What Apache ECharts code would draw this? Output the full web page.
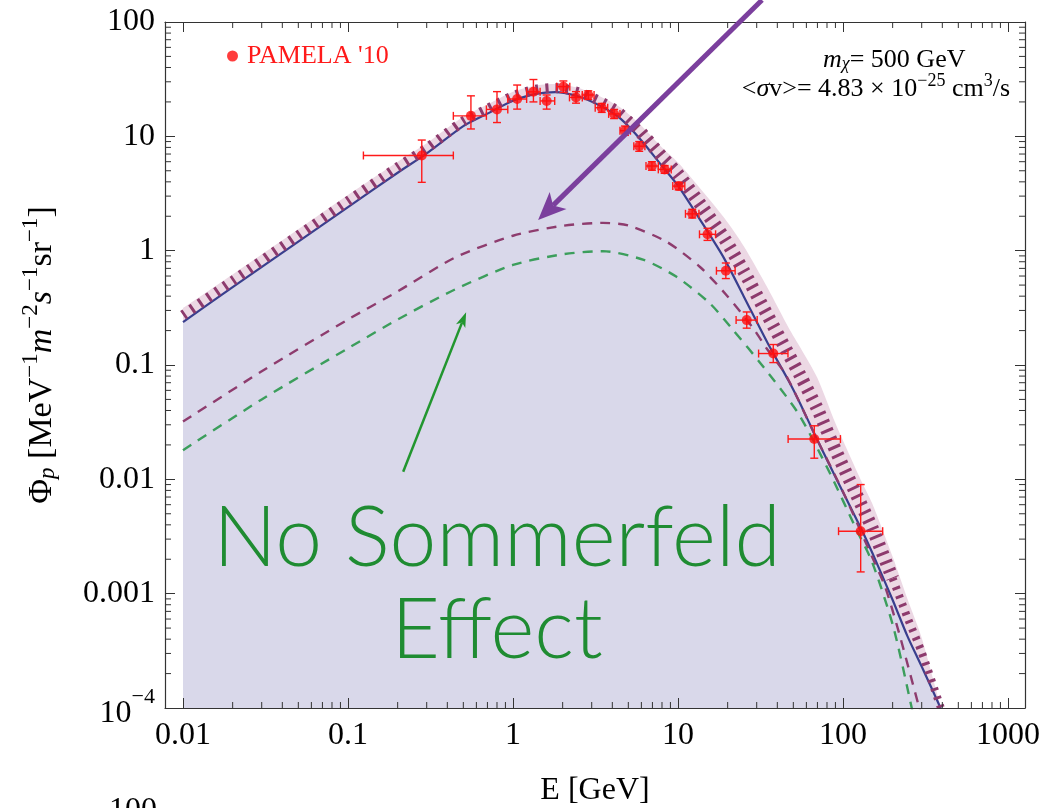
<!DOCTYPE html>
<html>
<head>
<meta charset="utf-8">
<script src="https://cdn.jsdelivr.net/npm/echarts@6/dist/echarts.min.js"></script>
<style>
html, body { margin: 0; padding: 0; background: #fff; }
#main { width: 1044px; height: 808px; }
</style>
</head>
<body>
<div id="main"></div>
<script>
const energy = [0.01, 0.02, 0.05, 0.1, 0.2, 0.3, 0.5, 0.7, 1, 1.4, 1.8, 2.5, 3.5, 4.5, 6, 8, 10, 14, 19, 25, 35, 47, 55, 70, 90, 130, 150, 200, 245, 300, 390, 430];
// total flux, solid blue curve (filled)
const fluxTotal = [0.237, 0.48, 1.2, 2.4, 4.8, 7.1, 12.3, 15.8, 20.5, 23.6, 24.4, 22.3, 18, 14.2, 9.2, 5.5, 3.7, 1.75, 0.86, 0.4, 0.155, 0.072, 0.046, 0.022, 0.0105, 0.0036, 0.0023, 0.00088, 0.00043, 0.00023, 0.0001, 0.00007];
// upper edge of the hatched band
const fluxUpper = [0.315, 0.62, 1.54, 3.07, 6.0, 8.7, 14.8, 19, 24.6, 28, 28.7, 26.5, 21.8, 17.8, 12.4, 8.0, 5.9, 3.35, 1.95, 1.1, 0.47, 0.21, 0.143, 0.077, 0.031, 0.0095, 0.0062, 0.0021, 0.00091, 0.00041, 0.000105, 0.00007];

// maroon dashed curve
const maroonE = [0.01, 0.03, 0.1, 0.2, 0.445, 1, 2, 3.5, 5, 8.5, 13.6, 19.7, 28.6, 34.4, 45, 70, 100, 150, 180, 219, 260, 290, 310];
const maroonF = [0.032, 0.088, 0.25, 0.44, 0.87, 1.35, 1.65, 1.75, 1.66, 1.2, 0.72, 0.408, 0.209, 0.14, 0.082, 0.022, 0.0078, 0.0021, 0.00115, 0.00045, 0.00018, 0.0001, 0.00007];

// green dashed curve
const greenE = [0.01, 0.03, 0.1, 0.2, 0.445, 1, 2, 3.5, 6.2, 9.8, 15.6, 21.6, 32.9, 53.6, 83.4, 121, 150, 202, 261, 280];
const greenF = [0.018, 0.05, 0.14, 0.25, 0.458, 0.75, 0.93, 0.99, 0.83, 0.59, 0.346, 0.202, 0.0964, 0.0377, 0.0113, 0.0036, 0.0019, 0.00051, 0.0001, 0.00006];

// PAMELA '10 points with error bars
const pamelaE   = [0.28, 0.556, 0.80, 1.06, 1.33, 1.60, 2.02, 2.41, 2.86, 3.45, 4.10, 4.77, 5.82, 6.95, 8.3, 10.1, 12.2, 15.1, 19.5, 26.1, 37.8, 67, 128];
const pamelaF   = [6.8, 15.1, 17.2, 21.2, 24.5, 20.4, 27.2, 21.9, 23, 17.8, 15.7, 11.2, 8.2, 5.5, 5.14, 3.67, 2.1, 1.39, 0.667, 0.247, 0.126, 0.0225, 0.00352];
const pamelaElo = [0.124, 0.435, 0.69, 0.93, 1.21, 1.46, 1.84, 2.2, 2.63, 3.15, 3.8, 4.45, 5.4, 6.4, 7.6, 9.3, 11.1, 13.5, 17.1, 22.5, 30.8, 46.5, 94];
const pamelaEhi = [0.435, 0.69, 0.93, 1.21, 1.46, 1.79, 2.21, 2.63, 3.1, 3.75, 4.45, 5.15, 6.3, 7.6, 9.1, 11.0, 13.4, 16.9, 22.2, 30.2, 46.4, 96.5, 174];
const pamelaFlo = [3.96, 11.6, 13.2, 17.3, 20, 17.3, 24.2, 19.5, 21, 16.2, 14.3, 10.2, 7.4, 5.05, 4.75, 3.4, 1.93, 1.23, 0.57, 0.21, 0.105, 0.0153, 0.00155];
const pamelaFhi = [9.28, 22.6, 24.6, 28.1, 31.4, 23, 30.5, 24.6, 25, 19.4, 17.2, 12.3, 9.0, 6.0, 5.55, 3.95, 2.3, 1.57, 0.78, 0.291, 0.151, 0.0294, 0.009];

const xRange = [0.00778, 1268];
const yRange = [1e-4, 100];

var myChart = echarts.init(document.getElementById('main'));

const serif = 'Liberation Serif, DejaVu Serif, serif';
const zip = (xs, ys) => xs.map((x, i) => [x, ys[i]]);

// exponent of v if it is a power of ten
function decade(v) {
    let k = Math.log10(v);
    let r = Math.round(k);
    return Math.abs(k - r) < 1e-6 ? r : null;
}

// minor tick positions 2..9 x 10^k
function minors(k0, k1, lo, hi) {
    let out = [];
    for (let k = k0; k <= k1; k++) {
        for (let m = 2; m <= 9; m++) {
            let v = m * Math.pow(10, k);
            if (v > lo && v < hi) out.push(v);
        }
    }
    return out;
}

function minorTicks(values, dir) {
    return {
        type: 'custom',
        silent: true,
        z: 12,
        clip: false,
        encode: { x: 0, y: 1 },
        data: values.map(v => dir === 'x' ? [v, 1] : [1, v]),
        renderItem: function (params, api) {
            const cs = params.coordSys;
            const p = api.coord([api.value(0), api.value(1)]);
            const len = 6;
            let segs;
            if (dir === 'x') {
                segs = [[p[0], cs.y + cs.height, p[0], cs.y + cs.height - len], [p[0], cs.y, p[0], cs.y + len]];
            } else {
                segs = [[cs.x, p[1], cs.x + len, p[1]], [cs.x + cs.width, p[1], cs.x + cs.width - len, p[1]]];
            }
            return {
                type: 'group',
                children: segs.map(s => ({
                    type: 'line',
                    shape: { x1: s[0], y1: s[1], x2: s[2], y2: s[3] },
                    style: { stroke: '#333', lineWidth: 1 }
                }))
            };
        }
    };
}

const axisCommon = {
    type: 'log',
    logBase: 10,
    z: 10,
    splitLine: { show: false },
    axisLine: { show: true, lineStyle: { color: '#333', width: 1.2 } },
    axisTick: { show: true, inside: true, length: 10, lineStyle: { color: '#333', width: 1 } },
    minorTick: { show: false }
};

// middle of the hatched band, where the thick dashes sit
const fluxMid = fluxTotal.map((f, i) => Math.sqrt(f * fluxUpper[i]));
const bandSplit = 14;   // the band widens after the peak (index of 6 GeV)
const bandNarrow = 27;  // and narrows again near the cut-off (index of 200 GeV)

const curve = { type: 'line', smooth: 0.25, showSymbol: false, silent: true };

option = {
    animation: false,
    backgroundColor: '#fff',
    grid: { left: 165, top: 22, right: 19, bottom: 100, containLabel: false, outerBoundsMode: 'none' },
    legend: {
        data: [{ name: "PAMELA '10", icon: 'circle' }],
        left: 227,
        top: 43,
        padding: 0,
        itemWidth: 11,
        itemHeight: 11,
        selectedMode: false,
        textStyle: { color: '#ff1a1a', fontFamily: serif, fontSize: 26, padding: [0, 0, 0, 4] }
    },
    xAxis: [
        Object.assign({}, axisCommon, {
            position: 'bottom',
            min: xRange[0],
            max: xRange[1],
            name: 'E [GeV]',
            nameLocation: 'middle',
            nameGap: 67,
            nameTextStyle: { fontFamily: serif, fontSize: 32, color: '#000' },
            axisLabel: {
                margin: 12,
                fontFamily: serif,
                fontSize: 32,
                color: '#000',
                formatter: function (v) {
                    let k = decade(v);
                    if (k === null) return '';
                    return k < 0 ? '0.' + '0'.repeat(-k - 1) + '1' : '1' + '0'.repeat(k);
                }
            }
        }),
        Object.assign({}, axisCommon, {
            position: 'top',
            min: xRange[0],
            max: xRange[1],
            axisLabel: { show: false }
        })
    ],
    yAxis: [
        Object.assign({}, axisCommon, {
            position: 'left',
            min: yRange[0],
            max: yRange[1],
            name: '{a|Φ}{sub|p}{a| [MeV}{sup|−1}{i|m}{sup|−2}{i|s}{sup|−1}{a|sr}{sup|−1}{a|]}',
            nameLocation: 'middle',
            nameRotate: 90,
            nameGap: 106,
            nameTextStyle: {
                padding: [0, 0, 0, 20],
                rich: {
                    a: { fontFamily: serif, fontSize: 34, color: '#000', lineHeight: 40, verticalAlign: 'bottom' },
                    i: { fontFamily: serif, fontStyle: 'italic', fontSize: 34, color: '#000', lineHeight: 40, verticalAlign: 'bottom' },
                    sub: { fontFamily: serif, fontStyle: 'italic', fontSize: 23, color: '#000', lineHeight: 26, verticalAlign: 'bottom' },
                    sup: { fontFamily: serif, fontSize: 23, color: '#000', lineHeight: 26, verticalAlign: 'top' }
                }
            },
            axisLabel: {
                margin: 10,
                fontFamily: serif,
                fontSize: 32,
                color: '#000',
                formatter: function (v) {
                    let k = decade(v);
                    if (k === null) return '';
                    if (k <= -4) return '{b|10}{s|−' + (-k) + '}';
                    return k < 0 ? '0.' + '0'.repeat(-k - 1) + '1' : '1' + '0'.repeat(k);
                },
                rich: {
                    b: { fontFamily: serif, fontSize: 32, color: '#000', lineHeight: 44, verticalAlign: 'bottom' },
                    s: { fontFamily: serif, fontSize: 22, color: '#000', lineHeight: 22, verticalAlign: 'top' }
                }
            }
        }),
        Object.assign({}, axisCommon, {
            position: 'right',
            min: yRange[0],
            max: yRange[1],
            axisLabel: { show: false }
        })
    ],
    series: [
        Object.assign({}, curve, {
            name: 'band',
            data: zip(energy, fluxUpper),
            lineStyle: { width: 0 },
            areaStyle: { color: '#ecd8e4', opacity: 1, origin: 'start' }
        }),
        Object.assign({}, curve, {
            name: 'total',
            data: zip(energy, fluxTotal),
            lineStyle: { color: '#393f8e', width: 2.2 },
            areaStyle: { color: '#d9d8ea', opacity: 1, origin: 'start' }
        }),
        Object.assign({}, curve, {
            name: 'hatch rise',
            data: zip(energy, fluxMid).slice(0, bandSplit + 1),
            lineStyle: { color: '#8d3a6d', width: 10, type: [3, 7], cap: 'butt' }
        }),
        Object.assign({}, curve, {
            name: 'hatch fall',
            data: zip(energy, fluxMid).slice(bandSplit, bandNarrow + 1),
            lineStyle: { color: '#8d3a6d', width: 13, type: [3, 6], cap: 'butt' }
        }),
        Object.assign({}, curve, {
            name: 'hatch tail',
            data: zip(energy, fluxMid).slice(bandNarrow),
            lineStyle: { color: '#8d3a6d', width: 8, type: [3, 6], cap: 'butt' }
        }),
        Object.assign({}, curve, {
            name: 'maroon',
            data: zip(maroonE, maroonF),
            lineStyle: { color: '#8e3c6e', width: 2.4, type: [10, 8] }
        }),
        Object.assign({}, curve, {
            name: 'green',
            data: zip(greenE, greenF),
            lineStyle: { color: '#3c9e5c', width: 2.4, type: [10, 8] }
        }),
        {
            name: 'errors',
            type: 'custom',
            silent: true,
            z: 4,
            encode: { x: 0, y: 1 },
            data: pamelaE.map((e, i) => [e, pamelaF[i], pamelaElo[i], pamelaEhi[i], pamelaFlo[i], pamelaFhi[i]]),
            renderItem: function (params, api) {
                const c = api.coord([api.value(0), api.value(1)]);
                const l = api.coord([api.value(2), api.value(1)]);
                const r = api.coord([api.value(3), api.value(1)]);
                const lo = api.coord([api.value(0), api.value(4)]);
                const hi = api.coord([api.value(0), api.value(5)]);
                const cap = 4;
                const segs = [
                    [l[0], c[1], r[0], c[1]],
                    [l[0], c[1] - cap, l[0], c[1] + cap],
                    [r[0], c[1] - cap, r[0], c[1] + cap],
                    [c[0], hi[1], c[0], lo[1]],
                    [c[0] - cap, hi[1], c[0] + cap, hi[1]],
                    [c[0] - cap, lo[1], c[0] + cap, lo[1]]
                ];
                return {
                    type: 'group',
                    children: segs.map(s => ({
                        type: 'line',
                        shape: { x1: s[0], y1: s[1], x2: s[2], y2: s[3] },
                        style: { stroke: '#ff1a1a', lineWidth: 1.4 }
                    }))
                };
            }
        },
        {
            name: "PAMELA '10",
            type: 'scatter',
            z: 5,
            data: zip(pamelaE, pamelaF),
            symbol: 'circle',
            symbolSize: 10,
            itemStyle: { color: '#ff0d0d' }
        },
        minorTicks(minors(-2, 2, xRange[0] * 1.05, xRange[1]), 'x'),
        minorTicks(minors(-4, 1, yRange[0], yRange[1]), 'y')
    ]
};
myChart.setOption(option);

// arrows and annotations, anchored to data coordinates
function px(e, f) {
    return myChart.convertToPixel({ seriesIndex: 1 }, [e, f]);
}

function arrow(p0, p1, color, width, headLen, headW) {
    const dx = p1[0] - p0[0], dy = p1[1] - p0[1];
    const L = Math.hypot(dx, dy);
    const ux = dx / L, uy = dy / L;
    const bx = p1[0] - ux * headLen, by = p1[1] - uy * headLen;
    const nx = p1[0] - ux * headLen * 0.75, ny = p1[1] - uy * headLen * 0.75;
    return [
        {
            type: 'line', z: 30,
            shape: { x1: p0[0], y1: p0[1], x2: nx, y2: ny },
            style: { stroke: color, lineWidth: width }
        },
        {
            type: 'polygon', z: 30,
            shape: {
                points: [
                    [p1[0], p1[1]],
                    [bx - uy * headW / 2, by + ux * headW / 2],
                    [nx, ny],
                    [bx + uy * headW / 2, by - ux * headW / 2]
                ]
            },
            style: { fill: color }
        }
    ];
}

const upright = { fontFamily: serif, fontSize: 26, fill: '#000', lineHeight: 30, verticalAlign: 'bottom' };
const ital = Object.assign({}, upright, { fontStyle: 'italic' });
const supS = { fontFamily: serif, fontSize: 18, fill: '#000', lineHeight: 20, verticalAlign: 'top' };
const subS = { fontFamily: serif, fontStyle: 'italic', fontSize: 18, fill: '#000', lineHeight: 20, verticalAlign: 'bottom' };
const thin = 'Lato, "Open Sans", sans-serif';

myChart.setOption({
    graphic: [
        ...arrow(px(32.3, 155.6), px(1.42, 1.85), '#7b3f9d', 5, 28, 24),
        ...arrow(px(0.216, 0.01164), px(0.52, 0.29), '#22962f', 2.5, 15, 10),
        {
            type: 'text', x: 823, y: 58, z: 30,
            style: {
                text: '{i|m}{sub|χ}{n|= 500 GeV}',
                rich: { n: upright, i: ital, sub: subS },
                align: 'left', verticalAlign: 'middle'
            }
        },
        {
            type: 'text', x: 1010, y: 87, z: 30,
            style: {
                text: '{n|<}{i|σ}{n|v>= 4.83 × 10}{sup|−25}{n| cm}{sup|3}{n|/s}',
                rich: { n: upright, i: ital, sup: supS },
                align: 'right', verticalAlign: 'middle'
            }
        },
        {
            type: 'text', x: 497, y: 539, z: 30,
            style: {
                text: 'No Sommerfeld',
                font: '300 84px ' + thin,
                fill: '#1f8c32',
                align: 'center', verticalAlign: 'middle'
            }
        },
        {
            type: 'text', x: 497, y: 631, z: 30,
            style: {
                text: 'Effect',
                font: '300 84px ' + thin,
                fill: '#1f8c32',
                align: 'center', verticalAlign: 'middle'
            }
        },
        {
            type: 'text', x: 157, y: 795, z: 30,
            style: {
                text: '100',
                font: '32px ' + serif,
                fill: '#000',
                align: 'right', verticalAlign: 'top'
            }
        }
    ]
});

window.addEventListener('resize', () => {
    myChart.resize();
});
</script>
</body>
</html>
